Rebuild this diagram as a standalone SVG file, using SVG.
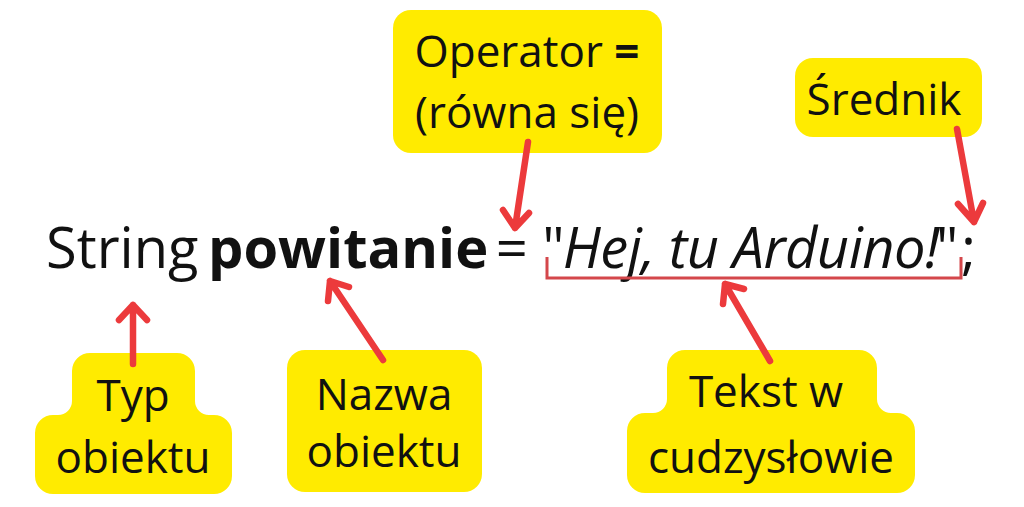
<svg xmlns="http://www.w3.org/2000/svg" width="1024" height="507" viewBox="0 0 1024 507">
<style>
.box{fill:#ffeb00}
.lbl{font-family:"Open Sans","Liberation Sans",sans-serif;font-size:44px;fill:#111;text-anchor:middle}
.main{font-family:"Open Sans","Liberation Sans",sans-serif;font-size:56px;fill:#111}
.arr{fill:none;stroke:#ec3a3c;stroke-width:6.5;stroke-linecap:round;stroke-linejoin:round}
.brk{fill:none;stroke:#d4474b;stroke-width:3}
</style>
<rect width="1024" height="507" fill="#fff"/>
<g id="code">
<text class="main" x="46" y="268">String <tspan dx="-5" font-weight="bold">powitanie</tspan><tspan dx="-7"> = "</tspan><tspan dx="-2" font-style="italic" letter-spacing="-0.5">Hej, tu Arduino!</tspan><tspan dx="-3">"</tspan><tspan dx="3">;</tspan></text>
</g>
<g id="operator">
<rect class="box" x="393" y="10" width="269" height="143" rx="18"/>
<text class="lbl" x="527" y="67">Operator <tspan font-weight="bold">=</tspan></text>
<text class="lbl" x="527" y="128">(równa się)</text>
</g>
<g id="srednik">
<rect class="box" x="795" y="58" width="187" height="79" rx="18"/>
<text class="lbl" x="884" y="115">Średnik</text>
</g>
<g id="typ">
<path class="box" d="M90,353 H177 A18,18 0 0 1 195,371 V401 A14,14 0 0 0 209,415 H214 A18,18 0 0 1 232,433 V476 A18,18 0 0 1 214,494 H53 A18,18 0 0 1 35,476 V433 A18,18 0 0 1 53,415 H58 A14,14 0 0 0 72,401 V371 A18,18 0 0 1 90,353 Z"/>
<text class="lbl" x="133" y="411">Typ</text>
<text class="lbl" x="133" y="473">obiektu</text>
</g>
<g id="nazwa">
<rect class="box" x="287" y="350" width="195" height="142" rx="18"/>
<text class="lbl" x="384" y="410">Nazwa</text>
<text class="lbl" x="384" y="467">obiektu</text>
</g>
<g id="tekst">
<path class="box" d="M685,350 H859 A18,18 0 0 1 877,368 V399 A14,14 0 0 0 891,413 H897 A18,18 0 0 1 915,431 V475 A18,18 0 0 1 897,493 H645 A18,18 0 0 1 627,475 V431 A18,18 0 0 1 645,413 H653 A14,14 0 0 0 667,399 V368 A18,18 0 0 1 685,350 Z"/>
<text class="lbl" x="766" y="407">Tekst w</text>
<text class="lbl" x="771" y="473">cudzysłowie</text>
</g>
<g id="connectors">
<path class="brk" d="M547,257 V278 H961 V257"/>
<path class="arr" d="M133,364 V305 M119,320 L133,305 L147,320"/>
<path class="arr" d="M383,360 L330,281 M328,301 L330,281 L349,287"/>
<path class="arr" d="M528,142 L515,228 M503,210 L515,228 L529,213"/>
<path class="arr" d="M957,129 L974,222 M958,204 L974,222 L983,203"/>
<path class="arr" d="M770,361 L725,284 M723,304 L725,284 L744,289"/>
</g>
</svg>
